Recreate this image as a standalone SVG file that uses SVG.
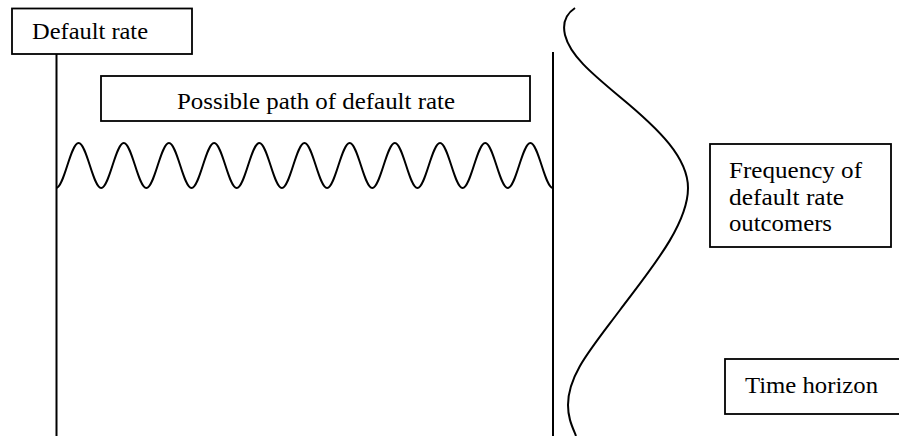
<svg xmlns="http://www.w3.org/2000/svg" width="899" height="436" viewBox="0 0 899 436">
  <style>
    .box { fill: #ffffff; stroke: #000000; stroke-width: 1.8; }
    .line { fill: none; stroke: #000000; stroke-width: 2; }
    .lbl { font-family: "Liberation Serif", "Times New Roman", Times, serif; font-size: 24px; fill: #000000; }
  </style>
  <rect width="899" height="436" fill="#ffffff"/>
  <g id="connectors">
    <line class="line" x1="56.5" y1="54" x2="56.5" y2="436"/>
    <line class="line" x1="553" y1="52" x2="553" y2="436"/>
    <path id="wave" class="line" d="M56,188 c8.21,0 14.38,-45 22.59,-45 s14.38,45 22.59,45 s14.38,-45 22.59,-45 s14.38,45 22.59,45 s14.38,-45 22.59,-45 s14.38,45 22.59,45 s14.38,-45 22.59,-45 s14.38,45 22.59,45 s14.38,-45 22.59,-45 s14.38,45 22.59,45 s14.38,-45 22.59,-45 s14.38,45 22.59,45 s14.38,-45 22.59,-45 s14.38,45 22.59,45 s14.38,-45 22.59,-45 s14.38,45 22.59,45 s14.38,-45 22.59,-45 s14.38,45 22.59,45 s14.38,-45 22.59,-45 s14.38,45 22.59,45 s14.38,-45 22.59,-45 s14.38,45 22.59,45"/>
    <path id="bell" class="line" d="M575,8 C566,14 562,22 565,35 C570,55 590,72 620,97 C660,130 688,158 688,188 C688,225 650,270 620,310 C590,350 568,375 568,405 C568,418 572,426 576,436"/>
  </g>
  <g id="default-rate">
    <rect class="box" x="12" y="8.5" width="180" height="45.5"/>
    <text class="lbl" x="32" y="38.5" textLength="116" lengthAdjust="spacingAndGlyphs">Default rate</text>
  </g>
  <g id="possible-path">
    <rect class="box" x="101" y="76" width="429" height="45"/>
    <text class="lbl" x="177" y="108.5" textLength="278" lengthAdjust="spacingAndGlyphs">Possible path of default rate</text>
  </g>
  <g id="frequency">
    <rect class="box" x="710" y="144" width="181" height="103"/>
    <text class="lbl" x="729" y="178" textLength="133" lengthAdjust="spacingAndGlyphs">Frequency of</text>
    <text class="lbl" x="729" y="205" textLength="115" lengthAdjust="spacingAndGlyphs">default rate</text>
    <text class="lbl" x="729" y="231" textLength="103" lengthAdjust="spacingAndGlyphs">outcomers</text>
  </g>
  <g id="time-horizon">
    <rect class="box" x="725" y="359" width="180" height="55"/>
    <text class="lbl" x="745" y="392.5" textLength="133" lengthAdjust="spacingAndGlyphs">Time horizon</text>
  </g>
</svg>
